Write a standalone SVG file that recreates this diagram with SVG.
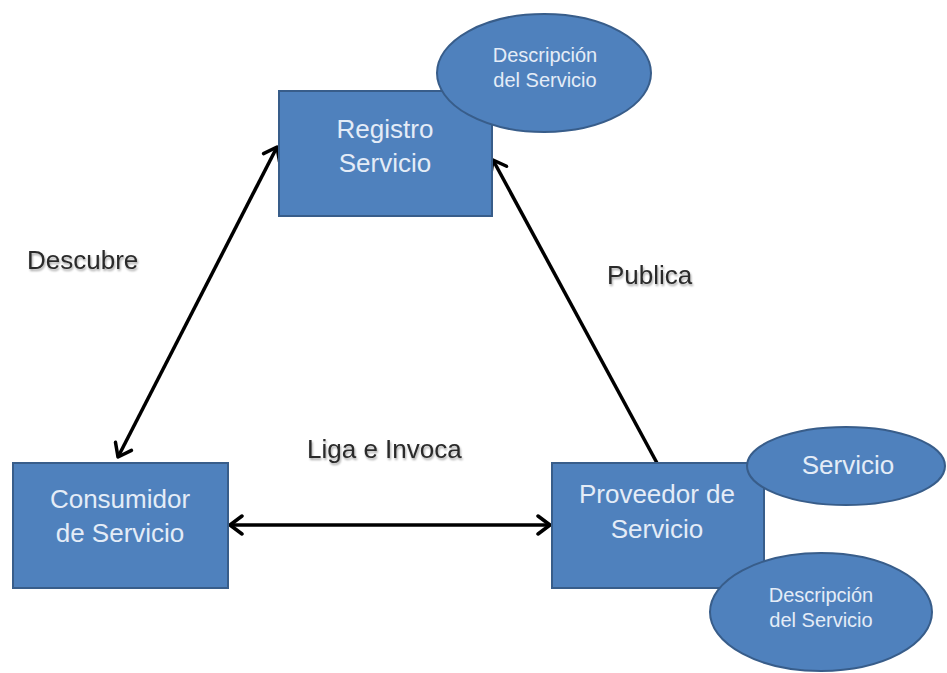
<svg xmlns="http://www.w3.org/2000/svg" width="947" height="673" viewBox="0 0 947 673">
  <style>
    .box { fill: #4F81BD; stroke: #385D8A; stroke-width: 2; }
    .oval { fill: #4F81BD; stroke: #385D8A; stroke-width: 2; }
    .nt { font-family: "Liberation Sans", Arial, sans-serif; font-size: 26px; fill: #E4ECF7; text-anchor: middle; }
    .st { font-family: "Liberation Sans", Arial, sans-serif; font-size: 20px; fill: #E4ECF7; text-anchor: middle; }
    .lbl { font-family: "Liberation Sans", Arial, sans-serif; font-size: 26px; fill: #2B2B2B; filter: url(#soft); }
    .link { stroke: #000; stroke-width: 3.5; fill: none; }
  </style>
  <defs>
    <marker id="head" viewBox="-16 -11 19 22" markerWidth="19" markerHeight="22" refX="0" refY="0" markerUnits="userSpaceOnUse" orient="auto-start-reverse">
      <path d="M -12,-9 L 0,0 L -12,9" fill="none" stroke="#000" stroke-width="3.5" stroke-linejoin="round" stroke-linecap="round"/>
    </marker>
    <filter id="soft" x="-10%" y="-20%" width="130%" height="160%">
      <feGaussianBlur in="SourceAlpha" stdDeviation="1.2"/>
      <feOffset dx="1" dy="2" result="b"/>
      <feComponentTransfer><feFuncA type="linear" slope="0.35"/></feComponentTransfer>
      <feMerge><feMergeNode/><feMergeNode in="SourceGraphic"/></feMerge>
    </filter>
  </defs>

  <!-- connectors -->
  <g id="connectors">
    <line class="link" x1="277" y1="147" x2="118" y2="457" marker-start="url(#head)" marker-end="url(#head)"/>
    <line class="link" x1="657" y1="463" x2="493" y2="160" marker-end="url(#head)"/>
    <line class="link" x1="230" y1="525" x2="550" y2="525" marker-start="url(#head)" marker-end="url(#head)"/>
    <text class="lbl" x="27" y="269">Descubre</text>
    <text class="lbl" x="607" y="284">Publica</text>
    <text class="lbl" x="307" y="458">Liga e Invoca</text>
  </g>

  <!-- service registry -->
  <g id="registro">
    <rect class="box" x="279" y="91" width="213" height="125"/>
    <text class="nt" x="385" y="138">Registro</text>
    <text class="nt" x="385" y="172">Servicio</text>
  </g>
  <g id="registro-descripcion">
    <ellipse class="oval" cx="544" cy="73" rx="107" ry="59"/>
    <text class="st" x="545" y="62">Descripción</text>
    <text class="st" x="545" y="87">del Servicio</text>
  </g>

  <!-- service consumer -->
  <g id="consumidor">
    <rect class="box" x="13" y="463" width="215" height="125"/>
    <text class="nt" x="120" y="508">Consumidor</text>
    <text class="nt" x="120" y="542">de Servicio</text>
  </g>

  <!-- service provider -->
  <g id="proveedor">
    <rect class="box" x="552" y="463" width="212" height="125"/>
    <text class="nt" x="657" y="503">Proveedor de</text>
    <text class="nt" x="657" y="538">Servicio</text>
  </g>
  <g id="proveedor-servicio">
    <ellipse class="oval" cx="846" cy="466" rx="99" ry="39"/>
    <text class="nt" x="848" y="474">Servicio</text>
  </g>
  <g id="proveedor-descripcion">
    <ellipse class="oval" cx="821" cy="612" rx="111" ry="59"/>
    <text class="st" x="821" y="602">Descripción</text>
    <text class="st" x="821" y="627">del Servicio</text>
  </g>
</svg>
